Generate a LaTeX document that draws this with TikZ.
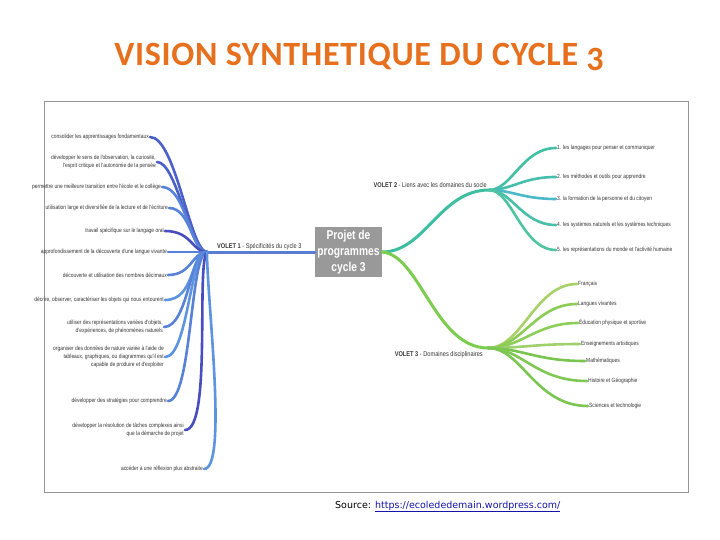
\documentclass[tikz,border=0pt]{standalone}
\usepackage{fontspec}
\setmainfont{Liberation Sans}
\newfontfamily\leaffont[FakeStretch=0.82]{Liberation Sans}
\newfontfamily\centerfont[FakeStretch=0.8]{Liberation Sans}
\newfontfamily\titlefont[LetterSpace=2]{Carlito}
\newfontfamily\srcfont{DejaVu Sans}
\definecolor{titleorange}{RGB}{230,112,30}
\definecolor{framegray}{RGB}{150,150,150}
\definecolor{centergray}{RGB}{153,153,153}
\definecolor{linkblue}{RGB}{20,20,170}
\definecolor{leaftext}{RGB}{55,55,55}
\definecolor{volA}{RGB}{90,125,212}
\definecolor{cA}{RGB}{74,95,200}
\definecolor{cB}{RGB}{88,130,216}
\definecolor{cC}{RGB}{92,148,224}
\definecolor{cD}{RGB}{72,78,190}
\definecolor{volB}{RGB}{62,190,160}
\definecolor{tA}{RGB}{64,192,165}
\definecolor{tB}{RGB}{70,190,172}
\definecolor{tC}{RGB}{76,185,200}
\definecolor{tD}{RGB}{70,192,168}
\definecolor{tE}{RGB}{78,196,160}
\definecolor{volC}{RGB}{124,204,80}
\definecolor{gA}{RGB}{168,210,104}
\definecolor{gB}{RGB}{140,204,85}
\definecolor{gC}{RGB}{140,206,90}
\definecolor{gD}{RGB}{160,208,110}
\definecolor{gE}{RGB}{120,198,80}
\definecolor{gF}{RGB}{128,200,85}
\definecolor{gG}{RGB}{122,198,80}
\begin{document}
\begin{tikzpicture}[x=1pt,y=-1pt,
  leafL/.style={anchor=east, align=right, inner sep=1pt, text=leaftext,
    font=\leaffont\fontsize{6}{8.2}\selectfont},
  leafR/.style={anchor=west, align=left, inner sep=1pt, text=leaftext,
    font=\leaffont\fontsize{6}{8.2}\selectfont},
  volet/.style={inner sep=0pt, text=leaftext, font=\leaffont\fontsize{6.9}{8}\selectfont},
  br/.style={line width=2.6pt, line cap=round},
  mainbr/.style={line width=3pt, line cap=round}]
\useasboundingbox (0,0) rectangle (720,540);
\fill[white] (0,0) rectangle (720,540);

% title
\node[anchor=base, inner sep=0pt, text=titleorange,
  font=\titlefont\bfseries\fontsize{34}{38}\selectfont] (title) at (359,66)
  {VISION SYNTHETIQUE DU CYCLE \raisebox{-5pt}{3}};

% frame
\draw[framegray, line width=1pt] (44,102) rectangle (688,492);

% centre
\node[fill=centergray, minimum width=67pt, minimum height=50pt, inner sep=0pt,
  text=white, align=center, font=\centerfont\bfseries\fontsize{12.8}{16}\selectfont]
  (centre) at (348.5,252) {Projet de\\programmes\\cycle 3};

% ---------- VOLET 1 ----------
\coordinate (J1) at (207,252);
\draw[mainbr, volA] (centre.west) -- (J1);
\node[volet, anchor=south west] (v1) at (217,250) {\textbf{VOLET 1} - Spécificités du cycle 3};

\node[leafL] (l1) at (150,137) {consolider les apprentissages fondamentaux};
\node[leafL] (l2) at (157,162) {développer le sens de l'observation, la curiosité,\\l'esprit critique et l'autonomie de la pensée};
\node[leafL] (l3) at (162,187) {permettre une meilleure transition entre l'école et le collège};
\node[leafL] (l4) at (169,208) {utilisation large et diversifiée de la lecture et de l'écriture};
\node[leafL] (l5) at (165,231) {travail spécifique sur le langage oral};
\node[leafL] (l6) at (168,252) {approfondissement de la découverte d'une langue vivante};
\node[leafL] (l7) at (168,275) {découverte et utilisation des nombres décimaux};
\node[leafL] (l8) at (165,300) {décrire, observer, caractériser les objets qui nous entourent};
\node[leafL] (l9) at (164,327) {utiliser des représentations variées d'objets,\\d'expériences, de phénomènes naturels};
\node[leafL] (l10) at (165,357) {organiser des données de nature variée à l'aide de\\tableaux, graphiques, ou diagrammes qu'il est\\capable de produire et d'exploiter};
\node[leafL] (l11) at (168,401) {développer des stratégies pour comprendre};
\node[leafL] (l12) at (185,430) {développer la résolution de tâches complexes ainsi\\que la démarche de projet};
\node[leafL] (l13) at (204,469) {accéder à une réflexion plus abstraite};

\draw[br, cA] (l1.east) .. controls (176,137) and (190,252) .. (J1);
\draw[br, cA] (l2.east) .. controls (177,162) and (190,252) .. (J1);
\draw[br, cB] (l3.east) .. controls (186,187) and (190,252) .. (J1);
\draw[br, cB] (l4.east) .. controls (191,208) and (192,252) .. (J1);
\draw[br, cD] (l5.east) .. controls (192,231) and (192,252) .. (J1);
\draw[br, cB] (l6.east) -- (J1);
\draw[br, cB] (l7.east) .. controls (192,275) and (192,252) .. (J1);
\draw[br, cC] (l8.east) .. controls (196,300) and (190,252) .. (J1);
\draw[br, cB] (l9.east) .. controls (188,327) and (190,252) .. (J1);
\draw[br, cC] (l10.east) .. controls (188,357) and (190,252) .. (J1);
\draw[br, cB] (l11.east) .. controls (192,401) and (190,252) .. (J1);
\draw[br, cD] (l12.east) .. controls (212,430) and (196,265) .. (J1);
\draw[br, cC] (l13.east) .. controls (228,469) and (207,300) .. (J1);

% ---------- VOLET 2 ----------
\coordinate (J2) at (489,190);
\draw[mainbr, volB] (centre.east) .. controls (425,252) and (440,190) .. (J2);
\node[volet, anchor=south east] (v2) at (487,188) {\textbf{VOLET 2} - Liens avec les domaines du socle};

\node[leafR] (r1) at (556,148) {1. les langages pour penser et communiquer};
\node[leafR] (r2) at (556,177) {2. les méthodes et outils pour apprendre};
\node[leafR] (r3) at (556,199) {3. la formation de la personne et du citoyen};
\node[leafR] (r4) at (556,225) {4. les systèmes naturels et les systèmes techniques};
\node[leafR] (r5) at (556,250) {5. les représentations du monde et l'activité humaine};

\draw[br, tA] (J2) .. controls (512,190) and (522,148) .. (r1.west);
\draw[br, tB] (J2) .. controls (512,190) and (522,177) .. (r2.west);
\draw[br, tC] (J2) .. controls (512,190) and (522,199) .. (r3.west);
\draw[br, tD] (J2) .. controls (512,190) and (522,225) .. (r4.west);
\draw[br, tE] (J2) .. controls (512,190) and (522,250) .. (r5.west);

% ---------- VOLET 3 ----------
\coordinate (J3) at (488,348);
\draw[mainbr, volC] (centre.east) .. controls (420,255) and (435,348) .. (J3);
\node[volet, anchor=north east] (v3) at (483,351) {\textbf{VOLET 3} - Domaines disciplinaires};

\node[leafR] (b1) at (577,284) {Français};
\node[leafR] (b2) at (577,304) {Langues vivantes};
\node[leafR] (b3) at (578,323) {Éducation physique et sportive};
\node[leafR] (b4) at (580,344) {Enseignements artistiques};
\node[leafR] (b5) at (585,361) {Mathématiques};
\node[leafR] (b6) at (587,381) {Histoire et Géographie};
\node[leafR] (b7) at (588,406) {Sciences et technologie};

\draw[br, gA] (J3) .. controls (522,348) and (535,284) .. (b1.west);
\draw[br, gB] (J3) .. controls (522,348) and (535,304) .. (b2.west);
\draw[br, gC] (J3) .. controls (522,348) and (535,323) .. (b3.west);
\draw[br, gD] (J3) .. controls (522,348) and (535,344) .. (b4.west);
\draw[br, gE] (J3) .. controls (522,348) and (535,361) .. (b5.west);
\draw[br, gF] (J3) .. controls (522,348) and (535,381) .. (b6.west);
\draw[br, gG] (J3) .. controls (522,348) and (535,406) .. (b7.west);

% source
\node[anchor=base west, inner sep=0pt, font=\srcfont\fontsize{9.5}{11}\selectfont]
  (src) at (335,508) {Source: \textcolor{linkblue}{\underline{https://ecolededemain.wordpress.com/}}};
\end{tikzpicture}
\end{document}
